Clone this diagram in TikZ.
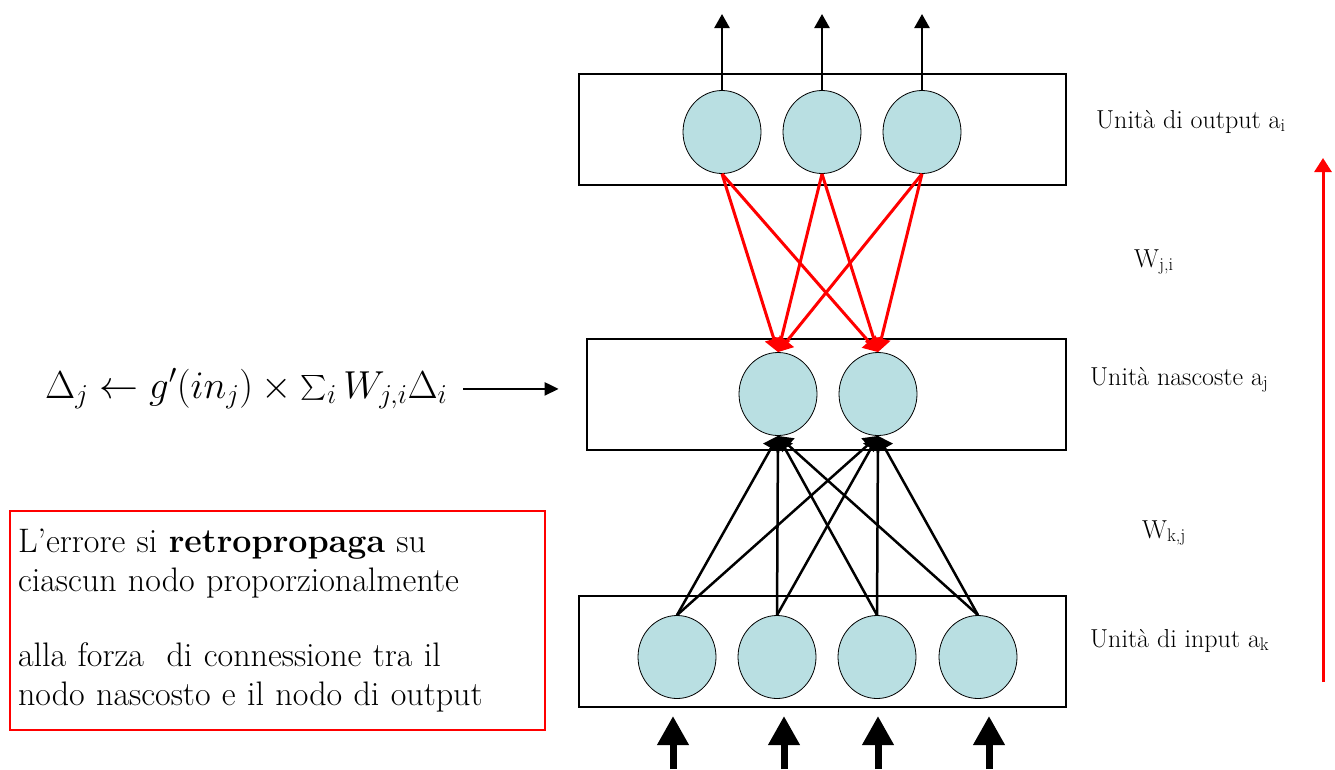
\documentclass[tikz,border=0pt]{standalone}
\usepackage{fix-cm}
\usepackage{amsmath}
\usepackage{xcolor}
\usetikzlibrary{arrows.meta, positioning, shapes.geometric}
\definecolor{neuronfill}{RGB}{185,223,226}

\begin{document}
\begin{tikzpicture}[x=1pt, y=-1pt, >=Stealth,
    layer/.style={draw, line width=2.8pt, minimum height=111pt, inner sep=0pt},
    unit/.style={ellipse, draw, line width=0.8pt, fill=neuronfill, minimum width=78pt, minimum height=83pt, inner sep=0pt},
    lab/.style={anchor=base west, inner sep=0pt, font=\fontsize{26}{30}\selectfont},
    fwd/.style={line width=2.5pt, -{Triangle[width=18pt,length=14pt]}},
    back/.style={red, line width=3pt, -{Triangle[width=18pt,length=14pt]}}]
  \useasboundingbox (0,0) rectangle (1335,769);
  % strati
  \node[layer, minimum width=487pt] (obox) at (822.5,129.5) {};
  \node[layer, minimum width=479pt] (hbox) at (826.5,394.5) {};
  \node[layer, minimum width=487pt] (ibox) at (822.5,651.5) {};
  % unita
  \foreach \x [count=\i] in {722,822,922} \node[unit] (o\i) at (\x,132) {};
  \foreach \x [count=\i] in {778,878} \node[unit] (h\i) at (\x,394) {};
  \foreach \x [count=\i] in {677,777,877,978} \node[unit] (k\i) at (\x,657) {};
  % connessioni
  \foreach \k in {1,...,4} \foreach \h in {1,2} \draw[fwd] (k\k.north) -- (h\h.south);
  \foreach \o in {1,2,3} \foreach \h in {1,2} \draw[back] (o\o.south) -- (h\h.north);
  % uscite e ingressi
  \coordinate (top) at (0,14);
  \foreach \i in {1,2,3}
    \draw[line width=2.5pt, -{Triangle[width=15pt,length=14pt]}] (o\i.north) -- (o\i.north |- top);
  \foreach \x [count=\i] in {673,784,878,989} {
    \coordinate (ib\i) at (\x,769);
    \coordinate (it\i) at (\x,716);
    \draw[line width=7pt, -{Triangle[width=30pt,length=29pt]}] (ib\i) -- (it\i);
  }
  % etichette
  \node[lab] (lo) at (1096,128) {Unità di output a\textsubscript{i}};
  \node[lab] (wji) at (1134,267) {W\textsubscript{j,i}};
  \node[lab] (lh) at (1090,385) {Unità nascoste a\textsubscript{j}};
  \node[lab] (wkj) at (1142,538) {W\textsubscript{k,j}};
  \node[lab] (li) at (1090,647) {Unità di input a\textsubscript{k}};
  % freccia di retropropagazione
  \coordinate (bp0) at (1323,682);
  \coordinate (bp1) at (1323,158);
  \draw[red, line width=3pt, -{Triangle[width=17pt,length=14pt]}] (bp0) -- (bp1);
  % formula
  \node[anchor=base west, inner sep=0pt, font=\fontsize{39}{44}\selectfont] (delta) at (45,398)
    {$\Delta_j \leftarrow g'(in_j) \times \sum_i W_{j,i}\Delta_i$};
  \draw[line width=2.5pt, -{Triangle[width=13pt,length=14pt]}, shorten <=16pt, shorten >=27pt]
    (delta.east) -- (delta.east -| hbox.west);
  % nota
  \node[draw=red, line width=2pt, anchor=north west, text width=519pt, inner xsep=8pt, inner ysep=0pt,
    minimum height=219pt, align=left, font=\fontsize{34}{39}\selectfont] (note) at (9,510)
    {L’errore si \textbf{retropropaga} su\\ciascun nodo proporzionalmente\\[36pt]alla forza\ \ di connessione tra il\\nodo nascosto e il nodo di output};
\end{tikzpicture}
\end{document}
